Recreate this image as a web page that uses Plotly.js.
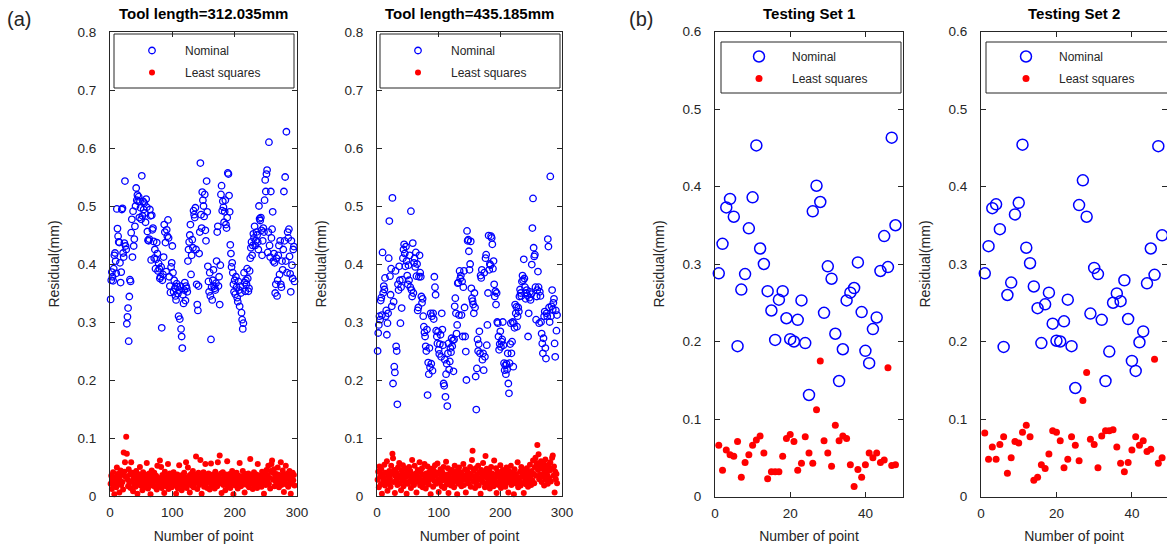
<!DOCTYPE html>
<html><head><meta charset="utf-8">
<script src="https://cdn.plot.ly/plotly-3.0.1.min.js"></script>
<style>html,body{margin:0;padding:0;background:#fff}#chart{width:1167px;height:550px}</style>
</head><body><div id="chart"></div>
<script>
// ---------------- data ----------------
const seriesNames = ['Nominal', 'Least squares'];
const panelTitles = ['Tool length=312.035mm', 'Tool length=435.185mm', 'Testing Set 1', 'Testing Set 2'];
const panelLabels = ['(a)', '(b)'];
const xTitle = 'Number of point';
const yTitle = 'Residual(mm)';

const tool1Nominal = [
0.339,0.372,0.386,0.378,0.371,0.392,0.415,0.419,0.405,0.384,
0.495,0.461,0.448,0.438,0.437,0.402,0.368,0.386,0.494,0.496,
0.419,0.412,0.436,0.543,0.431,0.425,0.297,0.309,0.324,0.267,
0.344,0.373,0.370,0.454,0.477,0.412,0.491,0.431,0.443,0.465,
0.500,0.531,0.510,0.519,0.508,0.516,0.480,0.508,0.497,0.477,
0.552,0.483,0.508,0.494,0.505,0.488,0.472,0.512,0.498,0.456,
0.441,0.440,0.443,0.494,0.483,0.407,0.484,0.459,0.462,0.439,
0.410,0.425,0.392,0.408,0.437,0.418,0.388,0.401,0.392,0.375,
0.378,0.395,0.290,0.372,0.382,0.412,0.468,0.455,0.437,0.387,
0.459,0.448,0.476,0.445,0.378,0.362,0.351,0.395,0.402,0.431,
0.385,0.352,0.372,0.358,0.345,0.338,0.366,0.361,0.349,0.310,
0.355,0.305,0.362,0.288,0.275,0.255,0.347,0.332,0.355,0.368,
0.337,0.362,0.358,0.352,0.405,0.425,0.438,0.450,0.468,0.382,
0.415,0.442,0.428,0.492,0.485,0.480,0.497,0.425,0.365,0.330,
0.320,0.362,0.418,0.455,0.574,0.485,0.462,0.524,0.510,0.500,
0.482,0.520,0.458,0.440,0.543,0.490,0.396,0.370,0.352,0.385,
0.345,0.270,0.360,0.338,0.372,0.390,0.362,0.358,0.355,0.367,
0.405,0.455,0.465,0.362,0.378,0.330,0.398,0.520,0.535,0.492,
0.508,0.498,0.472,0.490,0.510,0.468,0.462,0.480,0.557,0.555,
0.518,0.490,0.433,0.418,0.395,0.402,0.385,0.365,0.352,0.372,
0.348,0.378,0.360,0.342,0.335,0.370,0.355,0.327,0.362,0.350,
0.316,0.304,0.288,0.298,0.385,0.368,0.353,0.372,0.365,0.392,
0.375,0.353,0.358,0.388,0.410,0.428,0.438,0.415,0.432,0.452,
0.445,0.465,0.432,0.440,0.455,0.450,0.438,0.425,0.500,0.478,
0.475,0.480,0.458,0.415,0.440,0.462,0.455,0.510,0.545,0.525,
0.555,0.562,0.420,0.455,0.610,0.432,0.412,0.525,0.445,0.460,
0.490,0.405,0.418,0.402,0.350,0.365,0.410,0.345,0.372,0.415,
0.432,0.382,0.440,0.365,0.360,0.405,0.390,0.425,0.525,0.440,
0.550,0.405,0.628,0.385,0.455,0.445,0.460,0.413,0.383,0.352,
0.440,0.398,0.375,0.425,0.430,0.370
];
const tool1LeastSq = [
0.021,0.035,0.012,0.028,0.041,0.018,0.003,0.032,0.025,0.015,
0.049,0.038,0.022,0.031,0.006,0.027,0.044,0.019,0.036,0.024,
0.011,0.075,0.042,0.058,0.033,0.102,0.073,0.029,0.017,0.046,
0.023,0.037,0.014,0.058,0.026,0.040,0.008,0.031,0.020,0.035,
0.016,0.043,0.027,0.004,0.038,0.022,0.030,0.050,0.018,0.026,
0.034,0.010,0.041,0.024,0.029,0.015,0.037,0.020,0.057,0.028,
0.013,0.032,0.039,0.021,0.003,0.026,0.044,0.018,0.033,0.025,
0.040,0.016,0.029,0.035,0.011,0.052,0.023,0.031,0.019,0.061,
0.026,0.050,0.014,0.036,0.022,0.030,0.005,0.042,0.027,0.017,
0.033,0.024,0.055,0.012,0.028,0.039,0.020,0.035,0.015,0.030,
0.022,0.041,0.018,0.027,0.034,0.004,0.025,0.037,0.013,0.029,
0.053,0.019,0.031,0.024,0.010,0.036,0.028,0.016,0.040,0.023,
0.032,0.058,0.014,0.027,0.049,0.021,0.035,0.006,0.030,0.038,
0.018,0.026,0.043,0.015,0.033,0.022,0.029,0.068,0.037,0.012,
0.025,0.040,0.019,0.031,0.062,0.023,0.004,0.034,0.027,0.041,
0.016,0.030,0.055,0.021,0.036,0.014,0.028,0.039,0.024,0.011,
0.033,0.056,0.018,0.026,0.037,0.020,0.031,0.013,0.042,0.027,
0.035,0.017,0.058,0.024,0.030,0.070,0.022,0.039,0.005,0.028,
0.041,0.019,0.034,0.026,0.010,0.037,0.023,0.060,0.016,0.031,
0.027,0.038,0.014,0.033,0.021,0.043,0.029,0.003,0.036,0.024,
0.018,0.031,0.040,0.025,0.013,0.035,0.022,0.057,0.028,0.017,
0.034,0.026,0.043,0.020,0.030,0.006,0.038,0.024,0.033,0.019,
0.027,0.039,0.015,0.032,0.064,0.021,0.029,0.036,0.012,0.025,
0.041,0.018,0.031,0.026,0.037,0.014,0.055,0.023,0.030,0.020,
0.035,0.027,0.016,0.042,0.024,0.033,0.004,0.038,0.029,0.019,
0.045,0.026,0.036,0.052,0.021,0.031,0.013,0.043,0.055,0.061,
0.040,0.028,0.046,0.017,0.034,0.025,0.038,0.022,0.049,0.030,
0.015,0.036,0.027,0.058,0.019,0.032,0.044,0.024,0.007,0.037,
0.028,0.052,0.020,0.033,0.039,0.016,0.030,0.043,0.025,0.004,
0.034,0.021,0.040,0.027,0.036,0.018
];
const tool2Nominal = [
0.250,0.281,0.295,0.310,0.304,0.337,0.342,0.312,0.420,0.350,
0.362,0.356,0.376,0.310,0.320,0.278,0.298,0.315,0.410,0.474,
0.379,0.347,0.392,0.327,0.514,0.194,0.335,0.223,0.213,0.388,
0.258,0.250,0.158,0.365,0.355,0.396,0.372,0.298,0.360,0.324,
0.373,0.410,0.425,0.434,0.418,0.396,0.430,0.405,0.380,0.365,
0.398,0.372,0.415,0.360,0.491,0.355,0.344,0.436,0.350,0.402,
0.410,0.395,0.420,0.379,0.400,0.320,0.325,0.378,0.415,0.385,
0.378,0.344,0.333,0.340,0.310,0.292,0.282,0.275,0.258,0.250,
0.287,0.174,0.230,0.210,0.255,0.222,0.315,0.228,0.310,0.216,
0.315,0.305,0.378,0.360,0.347,0.285,0.275,0.263,0.283,0.252,
0.245,0.262,0.278,0.240,0.315,0.287,0.260,0.194,0.190,0.235,
0.171,0.210,0.228,0.155,0.246,0.263,0.218,0.232,0.255,0.248,
0.272,0.258,0.268,0.215,0.270,0.327,0.341,0.315,0.280,0.295,
0.367,0.368,0.312,0.388,0.375,0.380,0.312,0.370,0.275,0.360,
0.388,0.325,0.275,0.249,0.200,0.457,0.440,0.442,0.422,0.390,
0.400,0.439,0.358,0.341,0.336,0.330,0.315,0.350,0.325,0.206,
0.149,0.220,0.270,0.250,0.262,0.284,0.246,0.380,0.376,0.390,
0.235,0.246,0.217,0.385,0.240,0.410,0.416,0.260,0.295,0.350,
0.449,0.390,0.400,0.398,0.448,0.445,0.434,0.392,0.405,0.365,
0.344,0.353,0.330,0.350,0.300,0.298,0.275,0.252,0.262,0.284,
0.257,0.266,0.270,0.300,0.260,0.229,0.217,0.225,0.210,0.228,
0.218,0.246,0.194,0.177,0.229,0.262,0.298,0.246,0.266,0.300,
0.223,0.298,0.290,0.330,0.315,0.326,0.292,0.310,0.325,0.318,
0.344,0.356,0.350,0.345,0.370,0.380,0.372,0.408,0.375,0.360,
0.340,0.350,0.355,0.346,0.275,0.315,0.342,0.352,0.338,0.348,
0.399,0.462,0.513,0.428,0.413,0.416,0.360,0.304,0.344,0.355,
0.387,0.360,0.298,0.352,0.345,0.300,0.280,0.263,0.246,0.272,
0.310,0.318,0.255,0.237,0.315,0.310,0.443,0.430,0.325,0.300,
0.551,0.310,0.327,0.355,0.322,0.333,0.340,0.263,0.240,0.320,
0.285,0.312
];
const tool2LeastSq = [
0.028,0.042,0.015,0.051,0.033,0.020,0.046,0.004,0.037,0.025,
0.031,0.054,0.018,0.040,0.026,0.060,0.009,0.035,0.022,0.043,
0.030,0.016,0.052,0.038,0.073,0.065,0.024,0.045,0.005,0.034,
0.041,0.027,0.019,0.049,0.032,0.057,0.022,0.036,0.010,0.044,
0.029,0.053,0.017,0.038,0.025,0.047,0.033,0.004,0.040,0.021,
0.035,0.050,0.026,0.043,0.014,0.031,0.062,0.023,0.037,0.019,
0.052,0.028,0.039,0.006,0.034,0.045,0.024,0.032,0.058,0.018,
0.041,0.027,0.048,0.015,0.036,0.022,0.055,0.030,0.013,0.039,
0.025,0.051,0.034,0.020,0.042,0.029,0.003,0.047,0.031,0.037,
0.016,0.044,0.026,0.053,0.035,0.021,0.040,0.056,0.028,0.007,
0.038,0.023,0.046,0.032,0.017,0.041,0.027,0.050,0.014,0.035,
0.029,0.059,0.020,0.037,0.048,0.005,0.033,0.025,0.040,0.018,
0.045,0.030,0.022,0.039,0.015,0.052,0.034,0.026,0.043,0.003,
0.036,0.021,0.049,0.031,0.024,0.041,0.017,0.038,0.028,0.055,
0.019,0.035,0.046,0.006,0.032,0.027,0.042,0.022,0.039,0.030,
0.050,0.016,0.036,0.062,0.078,0.025,0.044,0.033,0.014,0.048,
0.021,0.037,0.029,0.052,0.018,0.041,0.031,0.004,0.045,0.026,
0.034,0.057,0.023,0.040,0.015,0.069,0.032,0.047,0.020,0.038,
0.027,0.043,0.013,0.035,0.050,0.022,0.039,0.029,0.017,0.061,
0.031,0.024,0.048,0.005,0.036,0.042,0.019,0.033,0.026,0.053,
0.014,0.038,0.028,0.045,0.021,0.034,0.041,0.016,0.030,0.049,
0.023,0.037,0.006,0.043,0.027,0.032,0.052,0.019,0.040,0.025,
0.035,0.003,0.046,0.029,0.038,0.021,0.033,0.058,0.015,0.031,
0.026,0.042,0.018,0.050,0.034,0.022,0.039,0.005,0.045,0.028,
0.036,0.020,0.048,0.030,0.016,0.041,0.025,0.054,0.033,0.019,
0.043,0.027,0.061,0.038,0.022,0.050,0.066,0.035,0.057,0.088,
0.045,0.072,0.029,0.052,0.037,0.060,0.024,0.047,0.033,0.055,
0.018,0.041,0.063,0.028,0.049,0.036,0.021,0.054,0.031,0.044,
0.058,0.025,0.047,0.066,0.070,0.035,0.051,0.006,0.042,0.029,
0.038,0.022
];
const set1Nominal = [
0.288,0.326,0.373,0.384,0.361,0.194,0.267,0.287,0.346,0.386,
0.453,0.320,0.300,0.265,0.240,0.202,0.254,0.265,0.230,0.203,
0.200,0.228,0.253,0.198,0.131,0.368,0.401,0.380,0.237,0.297,
0.281,0.210,0.149,0.190,0.253,0.263,0.269,0.302,0.238,0.188,
0.172,0.216,0.231,0.291,0.336,0.296,0.463,0.350
];
const set1LeastSq = [
0.066,0.034,0.060,0.054,0.052,0.071,0.025,0.044,0.054,0.066,
0.073,0.078,0.056,0.023,0.032,0.032,0.032,0.052,0.075,0.080,
0.071,0.034,0.043,0.077,0.056,0.043,0.112,0.175,0.072,0.056,
0.039,0.092,0.072,0.078,0.075,0.041,0.013,0.035,0.025,0.041,
0.056,0.050,0.056,0.044,0.047,0.166,0.040,0.041
];
const set2Nominal = [
0.288,0.323,0.372,0.377,0.345,0.193,0.260,0.276,0.364,0.379,
0.454,0.321,0.301,0.271,0.243,0.198,0.248,0.263,0.223,0.201,
0.200,0.226,0.254,0.194,0.140,0.376,0.408,0.361,0.236,0.295,
0.287,0.228,0.149,0.187,0.250,0.262,0.252,0.279,0.229,0.175,
0.162,0.199,0.213,0.275,0.320,0.286,0.452,0.337
];
const set2LeastSq = [
0.082,0.048,0.064,0.048,0.067,0.077,0.030,0.050,0.071,0.069,
0.083,0.092,0.077,0.021,0.025,0.041,0.036,0.055,0.085,0.083,
0.072,0.037,0.048,0.077,0.066,0.046,0.124,0.160,0.074,0.067,
0.037,0.078,0.085,0.085,0.086,0.064,0.043,0.032,0.044,0.060,
0.077,0.066,0.072,0.058,0.061,0.177,0.043,0.050
];

// ---------------- layout helpers ----------------
const W = 1167, H = 550;
const px = X => X / W;
const py = Y => 1 - Y / H;
const FONT = 'Liberation Sans, Arial, sans-serif';
const INK = '#262626';
const BLUE = '#0000ff', RED = '#ff0000';

function xAxis(range, dtick, x0, x1, anchor) {
  return {domain: [px(x0), Math.min(1, px(x1))], range, dtick, tick0: 0, anchor,
    ticks: 'inside', ticklen: 5, tickcolor: INK, tickwidth: 1, mirror: 'ticks',
    showline: true, linecolor: INK, linewidth: 1, showgrid: false, zeroline: false,
    tickfont: {family: FONT, size: 13.5, color: INK}, ticklabelstandoff: 4,
    title: {text: xTitle, font: {family: FONT, size: 14, color: INK}, standoff: 11},
    automargin: true, fixedrange: true};
}
function yAxis(range, y0, y1, anchor) {
  return {domain: [py(y1), py(y0)], range, dtick: 0.1, tick0: 0, anchor,
    ticks: 'inside', ticklen: 5, tickcolor: INK, tickwidth: 1, mirror: 'ticks',
    showline: true, linecolor: INK, linewidth: 1, showgrid: false, zeroline: false,
    tickfont: {family: FONT, size: 13.5, color: INK}, ticklabelstandoff: 10,
    title: {text: yTitle, font: {family: FONT, size: 14, color: INK}, standoff: 14},
    automargin: true, fixedrange: true};
}

const panels = [
  {nom: tool1Nominal, ls: tool1LeastSq, xa: 'x', ya: 'y', lg: 'legend', big: false},
  {nom: tool2Nominal, ls: tool2LeastSq, xa: 'x2', ya: 'y2', lg: 'legend2', big: false},
  {nom: set1Nominal, ls: set1LeastSq, xa: 'x3', ya: 'y3', lg: 'legend3', big: true},
  {nom: set2Nominal, ls: set2LeastSq, xa: 'x4', ya: 'y4', lg: 'legend4', big: true}
];

const traces = [];
panels.forEach((p, i) => {
  traces.push({type: 'scatter', mode: 'markers', name: seriesNames[0], y: p.nom, x0: 1, dx: 1,
    xaxis: p.xa, yaxis: p.ya, legend: p.lg, legendgroup: 'n' + i, cliponaxis: false,
    marker: {symbol: 'circle-open', color: BLUE, size: p.big ? 11 : 6.5, line: {width: p.big ? 1.5 : 1.3}},
    hoverinfo: 'skip'});
  traces.push({type: 'scatter', mode: 'markers', name: seriesNames[1], y: p.ls, x0: 1, dx: 1,
    xaxis: p.xa, yaxis: p.ya, legend: p.lg, legendgroup: 'l' + i, cliponaxis: false,
    marker: {symbol: 'circle', color: RED, size: p.big ? 7 : 6, line: {width: 0}},
    hoverinfo: 'skip'});
});

function legendAt(X, Y) {
  return {x: px(X), y: py(Y), xanchor: 'left', yanchor: 'top', bgcolor: 'rgba(0,0,0,0)',
    borderwidth: 0, font: {family: FONT, size: 12, color: INK}, itemwidth: 56,
    tracegroupgap: 3, traceorder: 'grouped', itemclick: false, itemdoubleclick: false};
}

function box(x0, y0, x1, y1) {
  return {type: 'rect', xref: 'paper', yref: 'paper', x0: px(x0), x1: px(x1), y0: py(y1), y1: py(y0),
    line: {color: INK, width: 1}, fillcolor: 'rgba(0,0,0,0)'};
}

function ann(text, X, Y, size, bold) {
  return {text: bold ? '<b>' + text + '</b>' : text, xref: 'paper', yref: 'paper', x: px(X), y: py(Y),
    xanchor: 'center', yanchor: 'middle', showarrow: false,
    font: {family: FONT, size, color: bold ? '#000' : INK}};
}

const layout = {
  width: W, height: H, margin: {l: 0, r: 0, t: 0, b: 0, autoexpand: false},
  paper_bgcolor: '#fff', plot_bgcolor: '#fff', showlegend: true,
  xaxis: xAxis([0, 300], 100, 110, 297, 'y'),
  yaxis: yAxis([0, 0.8], 32, 496, 'x'),
  xaxis2: xAxis([0, 300], 100, 377, 562, 'y2'),
  yaxis2: yAxis([0, 0.8], 32, 496, 'x2'),
  xaxis3: xAxis([0, 50], 20, 715, 903, 'y3'),
  yaxis3: yAxis([0, 0.6], 31.5, 496.5, 'x3'),
  xaxis4: xAxis([0, 49.3], 20, 981, 1167, 'y4'),
  yaxis4: yAxis([0, 0.6], 31.5, 496.5, 'x4'),
  legend: legendAt(119, 36),
  legend2: legendAt(385, 36),
  legend3: legendAt(726, 42),
  legend4: legendAt(993, 42),
  shapes: [box(114, 34, 294, 88), box(380, 34, 560, 88), box(721, 42, 901, 93), box(986, 42, 1170, 93)],
  annotations: [
    ann(panelTitles[0], 203.5, 13, 15, true),
    ann(panelTitles[1], 469.5, 13, 15, true),
    ann(panelTitles[2], 809, 13, 15, true),
    ann(panelTitles[3], 1074, 13, 15, true),
    ann(panelLabels[0], 19, 19, 20, false),
    ann(panelLabels[1], 641, 19, 20, false)
  ]
};

Plotly.newPlot('chart', traces, layout, {staticPlot: true, displayModeBar: false});
</script>
</body></html>
